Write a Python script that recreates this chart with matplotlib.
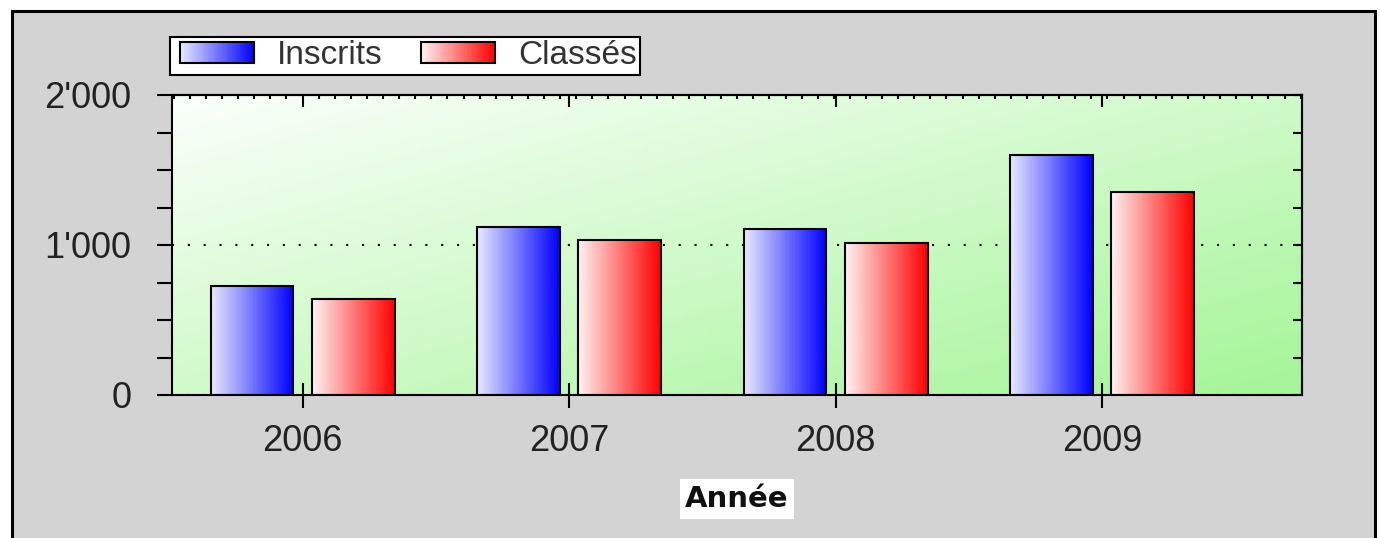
import numpy as np
import matplotlib
matplotlib.use("Agg")
import matplotlib.pyplot as plt
from matplotlib.patches import Rectangle
from matplotlib.legend_handler import HandlerBase
from matplotlib.colors import LinearSegmentedColormap
from matplotlib.ticker import MultipleLocator, FuncFormatter

# data
years = ["2006", "2007", "2008", "2009"]
inscrits = [727, 1120, 1107, 1600]
classes = [640, 1033, 1013, 1353]
series_names = ["Inscrits", "Classés"]

W, H = 1380, 538
fig = plt.figure(figsize=(W / 100, H / 100), dpi=100)
fig.patch.set_facecolor("white")

# grey panel with black border
fig.patches.append(Rectangle((11.5 / W, -0.1), (1374.5 - 11.5) / W, (H - 10.5) / H + 0.1,
                             transform=fig.transFigure, facecolor="#d3d3d3",
                             edgecolor="black", lw=2.2, zorder=-5))

blue_cmap = LinearSegmentedColormap.from_list("blue", ["#e8e8ff", "#0000ff"])
red_cmap = LinearSegmentedColormap.from_list("red", ["#fff2f2", "#ff0000"])
bg_cmap = LinearSegmentedColormap.from_list("bg", ["#fbfffb", "#a4f597"])

ax = fig.add_axes([172 / W, (H - 395) / H, 1130 / W, 300 / H])
ax.set_facecolor("none")

# background gradient, white top-left to green bottom-right
gx, gy = np.meshgrid(np.linspace(0, 1, 256), np.linspace(0, 1, 256))
ax.imshow((gx + gy) / 2, cmap=bg_cmap, extent=[0, 1, 0, 1], transform=ax.transAxes,
          aspect="auto", origin="upper", zorder=0)

x = np.arange(len(years))
w = 0.31
off = 0.19
grad = np.linspace(0, 1, 128).reshape(1, -1)
for vals, sign, cmap in [(inscrits, -1, blue_cmap), (classes, 1, red_cmap)]:
    bars = ax.bar(x + sign * off, vals, w, facecolor="none", edgecolor="black", lw=1.5, zorder=3)
    for b in bars:
        ax.imshow(grad, cmap=cmap, aspect="auto", zorder=2,
                  extent=[b.get_x(), b.get_x() + b.get_width(), 0, b.get_height()])

ax.set_xlim(-0.49, 3.75)
ax.set_ylim(0, 2000)

# dotted grid at 1000
ax.set_axisbelow(True)
ax.yaxis.grid(True, which="major", color="black", lw=1.5, ls=(0, (1, 6.6)))

for s in ax.spines.values():
    s.set_linewidth(1.5)

ax.set_xticks(x)
ax.set_xticklabels(years)
ax.yaxis.set_major_locator(MultipleLocator(1000))
ax.yaxis.set_minor_locator(MultipleLocator(250))
ax.yaxis.set_major_formatter(FuncFormatter(lambda v, p: f"{int(v):,}".replace(",", "'")))

ax.tick_params(axis="x", which="major", direction="inout", length=18, width=1.5, pad=12)
ax.tick_params(axis="y", which="both", direction="out", length=11, width=1.5, pad=18)
for t in ax.get_xticklabels() + ax.get_yticklabels():
    t.set_fontfamily("Liberation Sans")
    t.set_fontsize(26)
    t.set_color("#222222")

top = ax.secondary_xaxis("top")
top.set_xticks(x)
top.set_xticklabels([])
top.xaxis.set_minor_locator(MultipleLocator(0.0604))
top.tick_params(which="major", direction="in", length=8.5, width=1.5)
top.tick_params(which="minor", direction="in", length=3, width=1.5)
top.spines["top"].set_linewidth(1.5)

right = ax.secondary_yaxis("right")
right.yaxis.set_major_locator(MultipleLocator(250))
right.set_yticklabels([])
right.tick_params(direction="in", length=6.5, width=1.5)
right.spines["right"].set_linewidth(1.5)

ax.set_xlabel("Année", fontfamily="DejaVu Sans", fontweight="bold", fontsize=21,
              color="#111111", va="center",
              bbox=dict(facecolor="white", edgecolor="none", pad=4))
ax.xaxis.set_label_coords(0.5, (395 - 499) / 300)


class GradHandler(HandlerBase):
    def __init__(self, cmap, lead=7):
        super().__init__()
        self.cmap = cmap
        self.lead = lead  # empty space (px) before the swatch

    def create_artists(self, legend, orig_handle, xdescent, ydescent, width, height, fontsize, trans):
        n = 40
        x0 = -xdescent + self.lead * 72 / 100
        ww = width - self.lead * 72 / 100
        arts = []
        for i in range(n):
            arts.append(Rectangle((x0 + ww * i / n, -ydescent), ww / n * 1.05, height,
                                  facecolor=self.cmap((i + 0.5) / n), edgecolor="none", transform=trans))
        arts.append(Rectangle((x0, -ydescent), ww, height, facecolor="none",
                              edgecolor="black", lw=1.5, transform=trans))
        return arts


h1 = Rectangle((0, 0), 1, 1)
h2 = Rectangle((0, 0), 1, 1)
fs = 24
px = fs * 100 / 72
leg = fig.legend([h1, h2], series_names, handler_map={h1: GradHandler(blue_cmap), h2: GradHandler(red_cmap)},
                 loc="upper left", bbox_to_anchor=(170 / W, 1 - 37 / H),
                 ncol=2, prop={"family": "Liberation Sans", "size": fs}, labelcolor="#333333",
                 handlelength=81 / px, handleheight=19 / px, handletextpad=23 / px, columnspacing=31 / px,
                 borderpad=0.1, borderaxespad=0, fancybox=False, frameon=True, framealpha=1)
leg.get_frame().set_facecolor("white")
leg.get_frame().set_edgecolor("black")
leg.get_frame().set_linewidth(1.5)

fig.savefig("out.png", dpi=100)
